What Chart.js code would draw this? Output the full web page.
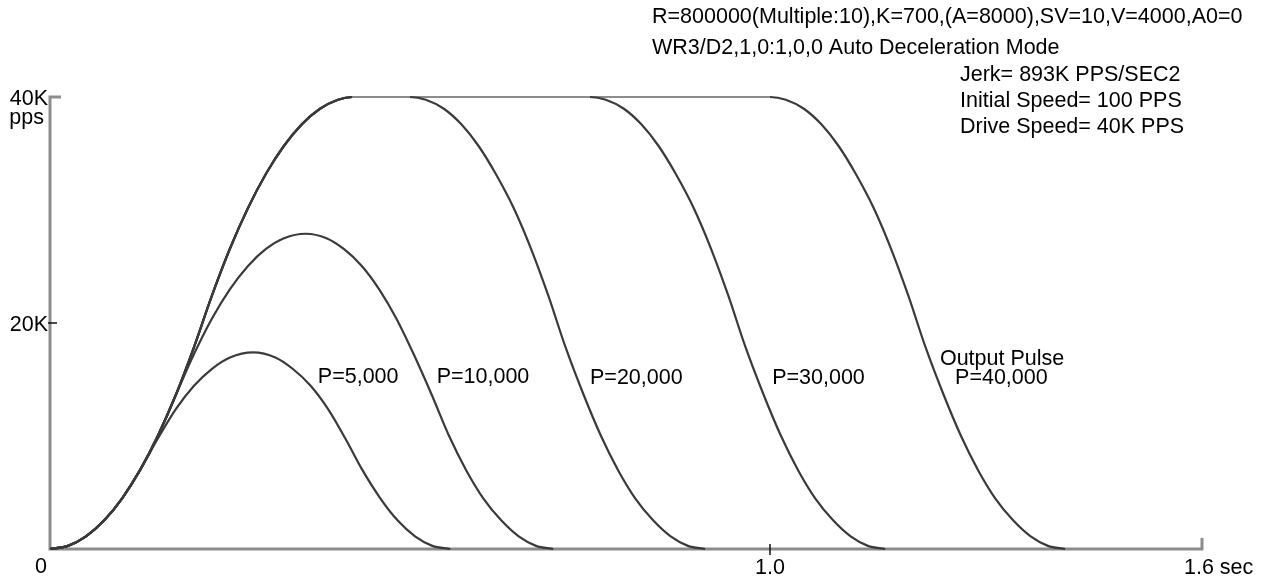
<!DOCTYPE html>
<html>
<head>
    <title>Auto Deceleration Mode</title>
    <script src="https://cdn.jsdelivr.net/npm/chart.js"></script>
    <style>body { margin: 0; background: #fff; }</style>
</head>
<body>
    <canvas id="myChart" width="1265" height="583"></canvas>
    <script>
        // speed profiles: time in sec, speed in pps
        const accelTime = [0, 0.025, 0.05, 0.075, 0.1, 0.125, 0.15, 0.175, 0.2, 0.225, 0.25, 0.275, 0.3, 0.325, 0.35, 0.375, 0.4, 0.42];
        const accelSpeed = [0, 279, 1116, 2512, 4465, 6977, 10046, 13674, 17860, 22442, 26590, 30180, 33212, 35686, 37601, 38958, 39758, 40000];
        const decelSpeed = [40000, 39758, 38958, 37601, 35686, 33212, 30180, 26590, 22442, 17860, 13674, 10046, 6977, 4465, 2512, 1116, 279, 0];

        const p20DecelTime = [0.5, 0.522, 0.547, 0.571, 0.595, 0.619, 0.644, 0.668, 0.692, 0.716, 0.741, 0.765, 0.789, 0.813, 0.838, 0.862, 0.886, 0.91];
        const p30DecelTime = [0.75, 0.772, 0.797, 0.821, 0.845, 0.869, 0.894, 0.918, 0.942, 0.966, 0.991, 1.015, 1.039, 1.063, 1.088, 1.112, 1.136, 1.16];
        const p40DecelTime = [1.0, 1.022, 1.047, 1.071, 1.095, 1.119, 1.144, 1.168, 1.192, 1.216, 1.241, 1.265, 1.289, 1.313, 1.338, 1.362, 1.386, 1.41];

        const p5Time = [0, 0.025, 0.05, 0.075, 0.1, 0.125, 0.15, 0.175, 0.2, 0.225, 0.25, 0.282, 0.313, 0.337, 0.362, 0.386, 0.41, 0.434, 0.459, 0.483, 0.507, 0.531, 0.556];
        const p5Speed = [0, 279, 1116, 2512, 4465, 6977, 9800, 12400, 14450, 15950, 16950, 17400, 16950, 15950, 14450, 12400, 9800, 6977, 4465, 2512, 1116, 279, 0];

        const p10Time = [0, 0.025, 0.05, 0.075, 0.1, 0.125, 0.15, 0.175, 0.2, 0.225, 0.25, 0.275, 0.3, 0.325, 0.355, 0.384, 0.408, 0.433, 0.457, 0.481, 0.505, 0.53, 0.554, 0.578, 0.602, 0.627, 0.651, 0.675, 0.699];
        const p10Speed = [0, 279, 1116, 2512, 4465, 6977, 10046, 13674, 17250, 20400, 23000, 25050, 26550, 27500, 27900, 27500, 26550, 25050, 23000, 20400, 17250, 13674, 10046, 6977, 4465, 2512, 1116, 279, 0];

        const pulseLabels = ['P=5,000', 'P=10,000', 'P=20,000', 'P=30,000', 'P=40,000'];
        const xTickValues = [1.0, 1.6];
        const xTickLabels = ['1.0', '1.6 sec'];
        const yTickValues = [0, 20000, 40000];
        const yTickLabels = ['0', '20K', '40K'];

        const headerLines = [
            'R=800000(Multiple:10),K=700,(A=8000),SV=10,V=4000,A0=0',
            'WR3/D2,1,0:1,0,0 Auto Deceleration Mode'
        ];
        const infoLines = ['Jerk= 893K PPS/SEC2', 'Initial Speed= 100 PPS', 'Drive Speed= 40K PPS'];

        function pts(ts, vs) {
            return ts.map((t, i) => ({ x: t, y: vs[i] }));
        }

        const FONT = '21.5px "Liberation Sans", Arial, sans-serif';

        const drawExtras = {
            id: 'drawExtras',
            beforeDatasetsDraw(chart) {
                const ctx = chart.ctx;
                const xs = chart.scales.x, ys = chart.scales.y;
                const x0 = xs.getPixelForValue(0), x1 = xs.getPixelForValue(1.6);
                const y0 = ys.getPixelForValue(0), yTop = ys.getPixelForValue(40000);
                ctx.save();
                ctx.strokeStyle = '#8c8c8c';
                ctx.lineWidth = 3;
                ctx.beginPath();
                ctx.moveTo(x0 + 11, yTop);
                ctx.lineTo(x0, yTop);
                ctx.lineTo(x0, y0);
                ctx.lineTo(x1, y0);
                ctx.lineTo(x1, y0 - 11);
                ctx.stroke();
                // small black ticks
                ctx.strokeStyle = '#111';
                ctx.lineWidth = 1.5;
                ctx.beginPath();
                const y20 = ys.getPixelForValue(yTickValues[1]);
                ctx.moveTo(x0 - 2, y20);
                ctx.lineTo(x0 + 7, y20);
                const x10 = xs.getPixelForValue(xTickValues[0]);
                ctx.moveTo(x10, y0 - 5);
                ctx.lineTo(x10, y0 + 6);
                ctx.stroke();
                ctx.restore();
            },
            afterDraw(chart) {
                const ctx = chart.ctx;
                const xs = chart.scales.x, ys = chart.scales.y;
                ctx.save();
                ctx.fillStyle = '#000';
                ctx.font = FONT;
                ctx.textBaseline = 'alphabetic';

                // y tick labels
                ctx.textAlign = 'right';
                ctx.fillText(yTickLabels[2], 48, ys.getPixelForValue(yTickValues[2]) + 8);
                ctx.fillText('pps', 44, ys.getPixelForValue(yTickValues[2]) + 27);
                ctx.fillText(yTickLabels[1], 48, ys.getPixelForValue(yTickValues[1]) + 8);
                ctx.textAlign = 'center';
                ctx.fillText(yTickLabels[0], 41, ys.getPixelForValue(yTickValues[0]) + 24);

                // x tick labels
                ctx.fillText(xTickLabels[0], xs.getPixelForValue(xTickValues[0]), ys.getPixelForValue(0) + 25);
                ctx.textAlign = 'left';
                ctx.fillText(xTickLabels[1], xs.getPixelForValue(xTickValues[1]) - 18, ys.getPixelForValue(0) + 25);

                // header text
                ctx.fillText(headerLines[0], 652, 23);
                ctx.fillText(headerLines[1], 652, 54);
                infoLines.forEach((s, i) => ctx.fillText(s, 960, 81 + i * 26));

                // pulse labels, placed at (sec, pps)
                const at = (t, v) => [xs.getPixelForValue(t), ys.getPixelForValue(v)];
                let p;
                p = at(0.372, 14700); ctx.fillText(pulseLabels[0], p[0], p[1]);
                p = at(0.537, 14700); ctx.fillText(pulseLabels[1], p[0], p[1]);
                p = at(0.75, 14600); ctx.fillText(pulseLabels[2], p[0], p[1]);
                p = at(1.003, 14600); ctx.fillText(pulseLabels[3], p[0], p[1]);
                p = at(1.257, 14600); ctx.fillText(pulseLabels[4], p[0], p[1]);
                p = at(1.236, 16300); ctx.fillText('Output Pulse', p[0], p[1]);
                ctx.restore();
            }
        };

        const lineStyle = {
            borderColor: '#3a3a3a',
            borderWidth: 2.2,
            pointRadius: 0,
            cubicInterpolationMode: 'monotone',
            clip: false,
            fill: false,
            // the flat run at drive speed prints lighter in the original
            segment: {
                borderColor: c => (c.p0.parsed.y === 40000 && c.p1.parsed.y === 40000) ? '#8c8c8c' : undefined
            }
        };

        const ctx = document.getElementById('myChart').getContext('2d');
        const myChart = new Chart(ctx, {
            type: 'line',
            data: {
                datasets: [
                    { label: pulseLabels[0], data: pts(p5Time, p5Speed), ...lineStyle },
                    { label: pulseLabels[1], data: pts(p10Time, p10Speed), ...lineStyle },
                    { label: pulseLabels[2], data: pts(accelTime.concat(p20DecelTime), accelSpeed.concat(decelSpeed)), ...lineStyle },
                    { label: pulseLabels[3], data: pts(accelTime.concat(p30DecelTime), accelSpeed.concat(decelSpeed)), ...lineStyle },
                    { label: pulseLabels[4], data: pts(accelTime.concat(p40DecelTime), accelSpeed.concat(decelSpeed)), ...lineStyle }
                ]
            },
            options: {
                responsive: false,
                animation: false,
                layout: { padding: { left: 50, right: 63, top: 97, bottom: 34 } },
                plugins: { legend: { display: false }, tooltip: { enabled: false } },
                scales: {
                    x: { type: 'linear', min: 0, max: 1.6, display: false },
                    y: { min: 0, max: 40000, display: false }
                }
            },
            plugins: [drawExtras]
        });
    </script>
</body>
</html>
